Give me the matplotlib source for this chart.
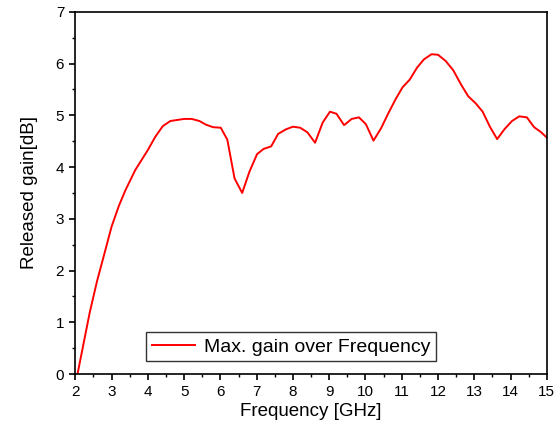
import matplotlib.pyplot as plt
from matplotlib.ticker import MultipleLocator

plt.rcParams['font.family'] = ['Liberation Sans', 'DejaVu Sans']

# Frequency in GHz, gain in dB
freq = [2.06, 2.21, 2.4, 2.6, 2.78, 3.0, 3.2, 3.38, 3.65, 4.0, 4.2, 4.41, 4.62,
        5.0, 5.21, 5.42, 5.6, 5.8, 6.01, 6.19, 6.39, 6.6, 6.8, 7.01, 7.19, 7.4,
        7.59, 7.81, 8.0, 8.2, 8.4, 8.61, 8.82, 9.02, 9.2, 9.41, 9.62, 9.82,
        10.01, 10.22, 10.43, 10.63, 10.83, 11.02, 11.22, 11.42, 11.61, 11.82,
        12.0, 12.21, 12.42, 12.63, 12.83, 13.04, 13.23, 13.43, 13.63, 13.83,
        14.04, 14.24, 14.45, 14.65, 14.83, 15.0]
gain = [0.0, 0.53, 1.2, 1.8, 2.27, 2.85, 3.25, 3.55, 3.94, 4.33, 4.58, 4.79, 4.89,
        4.93, 4.93, 4.89, 4.82, 4.77, 4.76, 4.53, 3.78, 3.50, 3.91, 4.25, 4.35, 4.40,
        4.64, 4.73, 4.78, 4.76, 4.67, 4.47, 4.86, 5.07, 5.03, 4.81, 4.93, 4.96,
        4.83, 4.51, 4.75, 5.04, 5.31, 5.54, 5.69, 5.92, 6.08, 6.18,
        6.17, 6.05, 5.87, 5.60, 5.37, 5.23, 5.07, 4.78, 4.54, 4.73,
        4.89, 4.98, 4.96, 4.77, 4.68, 4.57]

fig = plt.figure(figsize=(5.58, 4.37), dpi=100)
ax = fig.add_axes([0.135, 0.144, 0.845, 0.829])

ax.plot(freq, gain, color='red', lw=1.4, label='Max. gain over Frequency')

ax.set_xlim(2, 15)
ax.set_ylim(0, 7)
ax.xaxis.set_major_locator(MultipleLocator(1))
ax.xaxis.set_minor_locator(MultipleLocator(0.5))
ax.yaxis.set_major_locator(MultipleLocator(1))
ax.yaxis.set_minor_locator(MultipleLocator(0.5))
ax.tick_params(which='both', direction='out', top=False, right=False, labelsize=11)
ax.tick_params(which='major', length=4, width=1.2, pad=4)
ax.tick_params(which='minor', length=2.5, width=1)
for s in ax.spines.values():
    s.set_linewidth(1.2)

ax.set_xlabel('Frequency [GHz]', fontsize=13.5, labelpad=3)
ax.set_ylabel('Released gain[dB]', fontsize=13.5, labelpad=13)

leg = ax.legend(loc='lower center', bbox_to_anchor=(0.458, 0.035), fontsize=14,
                frameon=True, fancybox=False, edgecolor='black',
                handlelength=2.2, borderpad=0.3, handletextpad=0.45,
                borderaxespad=0)
leg.get_frame().set_linewidth(1.0)

fig.savefig('out.png', dpi=100)
